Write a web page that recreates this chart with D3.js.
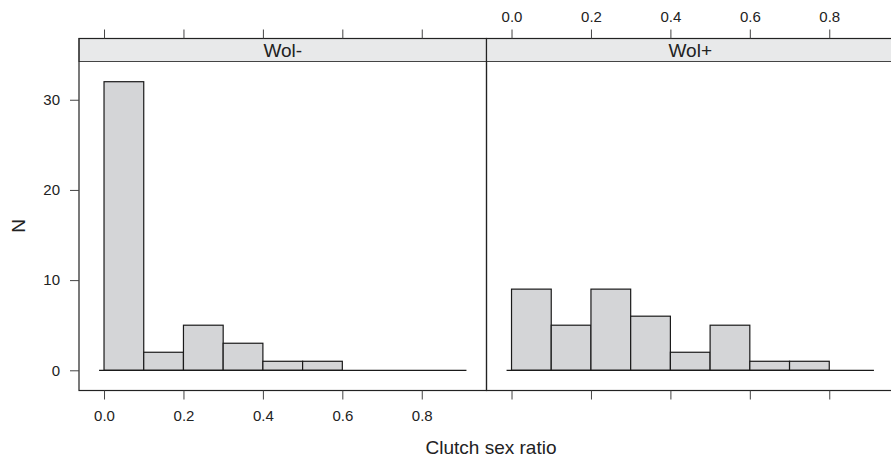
<!DOCTYPE html>
<head>
<meta charset="utf-8">
<script src="https://d3js.org/d3.v7.min.js"></script>
<style>
    body { margin: 0; background: #fff; }
    text { font-family: "Liberation Sans", Arial, sans-serif; fill: #222; }
</style>
</head>
<body>
<svg></svg>
<script>
    // histogram bins (lower edges) and counts per panel
    var binStarts = [0.0, 0.1, 0.2, 0.3, 0.4, 0.5, 0.6, 0.7, 0.8];
    var binWidth = 0.1;
    var panelNames = ["Wol-", "Wol+"];
    var countsWolMinus = [32, 2, 5, 3, 1, 1, 0, 0, 0];
    var countsWolPlus = [9, 5, 9, 6, 2, 5, 1, 1, 0];
    var xTicks = [0.0, 0.2, 0.4, 0.6, 0.8];
    var yTicks = [0, 10, 20, 30];

    var width = 891, height = 461;
    var svg = d3.select("svg").attr("width", width).attr("height", height);

    var panelW = 407.5;
    var panelLeft = 79;
    var stripTop = 38.5, stripH = 23;
    var panelTop = stripTop + stripH, panelBottom = 390.5;

    var y = d3.scaleLinear().domain([-2.24, 34.24]).range([panelBottom, panelTop]);

    var panels = [
        {name: panelNames[0], counts: countsWolMinus, left: panelLeft, topLabels: false, bottomLabels: true},
        {name: panelNames[1], counts: countsWolPlus, left: panelLeft + panelW, topLabels: true, bottomLabels: false}
    ];

    function styleAxis(a) {
        a.select(".domain").remove();
        a.selectAll(".tick line").attr("stroke", "#444");
        a.selectAll("text").style("font-size", "15px").attr("fill", "#222")
            .style("font-family", "Liberation Sans, Arial, sans-serif");
    }

    panels.forEach(function(p) {
        var x = d3.scaleLinear().domain([-0.063, 0.963]).range([p.left, p.left + panelW]);
        var g = svg.append("g");

        // bars
        g.selectAll("rect.bar")
            .data(binStarts)
            .enter().append("rect")
            .attr("class", "bar")
            .attr("x", function(d) { return x(d); })
            .attr("width", function(d) { return x(d + binWidth) - x(d); })
            .attr("y", function(d, i) { return y(p.counts[i]); })
            .attr("height", function(d, i) { return y(0) - y(p.counts[i]); })
            .attr("fill", "#d4d5d7")
            .attr("stroke", "#1a1a1a")
            .attr("stroke-width", 1.2);

        // baseline
        g.append("line")
            .attr("x1", x(-0.0125)).attr("x2", x(0.9125))
            .attr("y1", y(0)).attr("y2", y(0))
            .attr("stroke", "#1a1a1a").attr("stroke-width", 1.2);

        // strip
        g.append("rect")
            .attr("x", p.left).attr("y", stripTop)
            .attr("width", panelW).attr("height", stripH)
            .attr("fill", "#e8e9ea").attr("stroke", "#444").attr("stroke-width", 1);
        g.append("text")
            .attr("x", p.left + panelW / 2).attr("y", stripTop + 18.2)
            .attr("text-anchor", "middle").style("font-size", "19px")
            .text(p.name);

        // panel border
        g.append("rect")
            .attr("x", p.left).attr("y", stripTop)
            .attr("width", panelW).attr("height", panelBottom - stripTop)
            .attr("fill", "none").attr("stroke", "#222").attr("stroke-width", 1.2);

        // top axis
        var top = svg.append("g").attr("transform", "translate(0," + stripTop + ")")
            .call(d3.axisTop(x).tickValues(xTicks).tickSize(9).tickPadding(8)
                .tickFormat(p.topLabels ? d3.format(".1f") : ""));
        // bottom axis
        var bot = svg.append("g").attr("transform", "translate(0," + panelBottom + ")")
            .call(d3.axisBottom(x).tickValues(xTicks).tickSize(9).tickPadding(10.5)
                .tickFormat(p.bottomLabels ? d3.format(".1f") : ""));
        styleAxis(top);
        styleAxis(bot);
    });

    // y axis (left only)
    var ya = svg.append("g").attr("transform", "translate(" + panelLeft + ",0)")
        .call(d3.axisLeft(y).tickValues(yTicks).tickSize(9).tickPadding(10));
    styleAxis(ya);

    // axis titles
    svg.append("text")
        .attr("x", 491).attr("y", 454)
        .attr("text-anchor", "middle").style("font-size", "19px")
        .text("Clutch sex ratio");
    svg.append("text")
        .attr("transform", "translate(25," + ((panelTop + panelBottom) / 2) + ") rotate(-90)")
        .attr("text-anchor", "middle").style("font-size", "19px")
        .text("N");
</script>
</body>
